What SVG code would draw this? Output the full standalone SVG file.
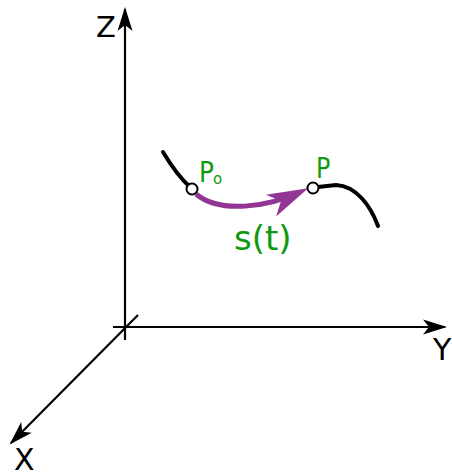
<svg xmlns="http://www.w3.org/2000/svg" width="452" height="476" viewBox="0 0 452 476">
<style>
.axis{fill:none;stroke:#000;stroke-width:2.2}
.curve{fill:none;stroke:#000;stroke-width:4;stroke-linecap:round}
.lbl{font-family:"DejaVu Sans",sans-serif;fill:#000}
.g{font-family:"DejaVu Sans",sans-serif;fill:#0e9a0e}
.pt{fill:#fff;stroke:#000;stroke-width:2}
</style>
<defs>
<marker id="ah" markerUnits="userSpaceOnUse" markerWidth="40" markerHeight="40" refX="0" refY="0" viewBox="-30 -20 40 40" orient="auto" overflow="visible">
<path d="M2,0 L-22,-7.5 L-16,0 L-22,7.5 Z" fill="#000"/>
</marker>
<marker id="ph" markerUnits="userSpaceOnUse" markerWidth="60" markerHeight="60" refX="0" refY="0" viewBox="-50 -30 60 60" orient="auto" overflow="visible">
<path d="M9,0 L-32,-12 L-21,0 L-32,12 Z" fill="#933595"/>
</marker>
</defs>
<g id="connectors">
<line class="axis" x1="125" y1="340" x2="125" y2="9" marker-end="url(#ah)"/>
<line class="axis" x1="113" y1="327" x2="445" y2="327" marker-end="url(#ah)"/>
<line class="axis" x1="138" y1="315" x2="11" y2="443" marker-end="url(#ah)"/>
<path class="curve" d="M163,152 C172,167 181,179 190,187"/>
<path class="curve" d="M318,187 L336,185 C357,186 371,207 378,226"/>
<path d="M196,194 C220,214 268,207 300,192" fill="none" stroke="#933595" stroke-width="5" marker-end="url(#ph)"/>
</g>
<g id="P0">
<circle class="pt" cx="192" cy="189" r="5.5"/>
<text class="g" x="199" y="182" font-size="29" transform="translate(199 0) scale(0.85 1) translate(-199 0)">P</text>
<text class="g" x="213" y="184" font-size="15">o</text>
</g>
<g id="P">
<circle class="pt" cx="313" cy="188" r="5.5"/>
<text class="g" x="316" y="178" font-size="28" transform="translate(316 0) scale(0.85 1) translate(-316 0)">P</text>
</g>
<g id="st">
<text class="g" x="234" y="250" font-size="34">s(t)</text>
</g>
<g id="axis-labels">
<text class="lbl" x="96" y="37" font-size="29">Z</text>
<text class="lbl" x="433" y="360" font-size="30">Y</text>
<text class="lbl" x="14" y="470" font-size="30">X</text>
</g>
</svg>
